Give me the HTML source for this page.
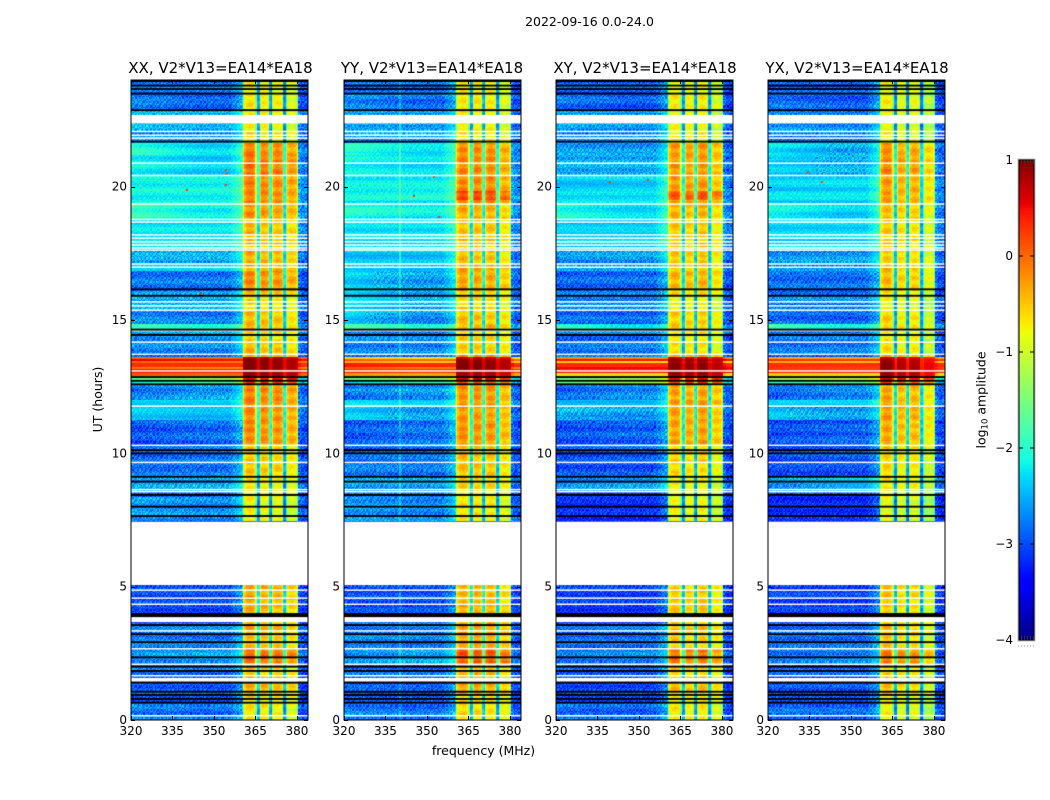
<!DOCTYPE html>
<html lang="en">
<head>
<meta charset="utf-8">
<title>2022-09-16 0.0-24.0</title>
<style>
  html, body { margin: 0; padding: 0; background: #fff; }
  #figure { position: relative; width: 1050px; height: 800px; overflow: hidden; background: #fff; }
  canvas { position: absolute; display: block; }
  svg { position: absolute; left: 0; top: 0; }
  text { font-family: "DejaVu Sans", "Liberation Sans", sans-serif; fill: #000; }
</style>
</head>
<body>
<div id="figure">
  <canvas id="hm0" width="177" height="640" style="left:131px;top:80px"></canvas>
  <canvas id="hm1" width="177" height="640" style="left:344px;top:80px"></canvas>
  <canvas id="hm2" width="177" height="640" style="left:556px;top:80px"></canvas>
  <canvas id="hm3" width="177" height="640" style="left:768px;top:80px"></canvas>
  <canvas id="cbar" width="15" height="480" style="left:1019px;top:160px"></canvas>
  <svg id="overlay" width="1050" height="800" viewBox="0 0 1050 800">
    <text x="589.5" y="26" font-size="12.5" text-anchor="middle">2022-09-16 0.0-24.0</text>
    <text x="220.5" y="73" font-size="15" text-anchor="middle">XX, V2*V13=EA14*EA18</text>
    <text x="432" y="73" font-size="15" text-anchor="middle">YY, V2*V13=EA14*EA18</text>
    <text x="645" y="73" font-size="15" text-anchor="middle">XY, V2*V13=EA14*EA18</text>
    <text x="857" y="73" font-size="15" text-anchor="middle">YX, V2*V13=EA14*EA18</text>
    <text x="483.5" y="755" font-size="12.5" text-anchor="middle">frequency (MHz)</text>
    <text transform="translate(102,399.5) rotate(-90)" font-size="12.5" text-anchor="middle">UT (hours)</text>
    <text transform="translate(985.5,400) rotate(-90)" font-size="12.5" text-anchor="middle">log<tspan font-size="8.5" dy="2">10</tspan><tspan dy="-2"> amplitude</tspan></text>
  </svg>
</div>
<script>
// ---- axis domain and tick data ----
const freqDomain = [320, 384];
const timeDomain = [0, 24];
const colorDomain = [-4, 1];
const freqTicks = [320, 335, 350, 365, 380];
const timeTicks = [0, 5, 10, 15, 20];
const colorTicks = [1, 0, -1, -2, -3, -4];

// ---- time rows (UT hours), bottom to top ----
const timeEdges = [0, .64, .94, 1.57, 2.1, 2.7, 3.22, 3.67, 4.35, 5.06, 7.46, 8.36, 8.62, 9.15, 9.67, 10.31, 11.25, 11.77, 12, 12.6, 12.75, 12.9, 13.01, 13.16, 13.24, 13.39, 13.46, 13.54, 13.61, 13.72, 14.17, 14.62, 14.85, 15.3, 15.86, 16.12, 16.87, 17.1, 17.62, 18.75, 19.35, 19.5, 19.85, 20.43, 21.18, 21.67, 22.09, 22.91, 23.47, 24];

// ---- log10 amplitude per time row: 320-335 MHz, 345-360 MHz, and the 361-380 MHz band ----
const xxLow = [-2.75,-3,-2.9,-2.8,-2.7,-2.7,-2.8,-3,-3,-4,-2.6,-2.9,-2.55,-2.8,-2.9,-3,-2.35,-2.3,-2.8,-2.2,-1.6,.1,.45,-.05,.35,.05,.55,0,-2.9,-2.7,-2.7,-1.75,-2.7,-2.5,-2.6,-2.8,-2.4,-2.5,-2.25,-1.85,-2.15,-2.15,-2.15,-2.15,-1.95,-2.6,-2.5,-2.7,-2.8];
const xxMid = [-2.85,-3,-2.95,-2.85,-2.6,-2.8,-2.7,-3.05,-3,-4,-2.7,-2.9,-2.5,-2.8,-2.8,-2.85,-2.45,-2.3,-2.6,-1.8,-1.2,0,.4,-.15,.35,-.1,.45,0,-2.9,-2.7,-2.6,-1.95,-2.8,-2.5,-2.6,-2.8,-2.4,-2.5,-2.25,-2.15,-2.15,-2.15,-2.15,-2.35,-2.3,-2.6,-2.6,-2.9,-2.8];
const xxBand = [-.75,-.7,-.45,-.55,-.05,-.55,-.4,-.45,-.4,-4,-.85,-.8,-.75,-.55,-.6,-.25,-.25,-.2,-.2,.2,.5,.9,.9,.95,.95,.95,.95,.85,-.3,-.5,-.6,-.45,-.5,-.7,-.5,-.25,-.4,-.45,-.5,-.3,-.25,-.2,-.2,-.1,-.2,-.7,-.8,-.75,-.8];

const yyLow = [-2.75,-3,-2.9,-2.8,-2.7,-2.7,-2.8,-3,-3,-4,-2.6,-2.85,-2.55,-2.75,-2.85,-2.95,-2.3,-2.3,-2.8,-2.3,-1.6,-.2,.4,.1,.4,-.3,.1,-.5,-2.8,-2.75,-2.65,-1.8,-2.35,-2.25,-2.25,-2.35,-2.3,-2.4,-2.25,-2,-2.2,-2.15,-2.15,-2.15,-1.95,-2.6,-2.5,-2.65,-2.8];
const yyMid = [-2.85,-3,-2.95,-2.85,-2.55,-2.8,-2.7,-3,-3,-4,-2.7,-2.85,-2.55,-2.8,-2.8,-2.8,-2.55,-2.4,-2.65,-1.9,-1.4,-.3,.35,-.1,.3,-.5,0,-.6,-2.8,-2.7,-2.7,-2.15,-2.7,-2.5,-2.55,-2.6,-2.4,-2.4,-2.25,-2.15,-2.25,-2.1,-2.15,-2.3,-2.25,-2.55,-2.55,-2.85,-2.8];
const yyBand = [-.7,-.65,-.4,-.5,0,-.4,-.35,-.45,-.5,-4,-.75,-.8,-.65,-.55,-.55,-.3,-.35,-.3,-.3,.1,.5,.8,.85,.95,.95,.9,.9,.7,-.3,-.6,-.65,-.45,-.55,-.7,-.55,-.4,-.4,-.55,-.55,-.45,-.2,.12,-.25,-.25,-.25,-.75,-.8,-.75,-.8];

const xyLow = [-2.85,-3.05,-3,-2.9,-2.8,-2.85,-2.9,-3.1,-3.05,-4,-3.2,-3.1,-2.7,-3,-3,-3,-2.45,-2.4,-2.9,-1.7,-1.55,-.6,.4,.5,.35,-.5,.45,-.2,-2.8,-2.8,-2.85,-1.85,-2.85,-2.7,-2.8,-2.9,-2.6,-2.65,-2.35,-2.05,-2.3,-2.25,-2.4,-2.5,-2.55,-2.75,-2.6,-2.8,-2.9];
const xyMid = [-2.9,-3.05,-3,-2.9,-2.7,-2.85,-2.8,-3.1,-3.1,-4,-3.2,-3.1,-2.6,-3,-2.9,-2.9,-2.6,-2.4,-2.7,-1.4,-1.2,-.6,.4,.5,.35,-.6,.45,-.2,-2.8,-2.75,-2.8,-2.2,-2.9,-2.7,-2.8,-2.85,-2.6,-2.6,-2.35,-2.3,-2.3,-2.25,-2.35,-2.5,-2.6,-2.7,-2.7,-2.95,-2.9];
const xyBand = [-.75,-.75,-.5,-.6,-.1,-.6,-.5,-.55,-.55,-4,-.85,-.85,-.8,-.65,-.6,-.35,-.35,-.3,-.35,.2,.55,.9,.95,.95,.95,.85,.95,.75,-.3,-.7,-.7,-.55,-.6,-.8,-.65,-.45,-.5,-.55,-.55,-.45,-.2,.05,-.3,-.3,-.3,-.75,-.85,-.75,-.85];

const yxLow = [-2.85,-3.05,-3,-2.9,-2.8,-2.85,-2.9,-3.1,-3.05,-4,-3.2,-3.1,-2.65,-3,-3,-3,-2.4,-2.4,-2.9,-1.8,-1.4,-.5,.35,.3,.3,-.4,.3,-.3,-2.8,-2.8,-2.85,-1.85,-2.85,-2.7,-2.8,-2.85,-2.55,-2.65,-2.3,-2.1,-2.3,-2.25,-2.35,-2.35,-2.2,-2.75,-2.6,-2.8,-2.9];
const yxMid = [-2.9,-3.05,-3,-2.9,-2.7,-2.85,-2.8,-3.1,-3.1,-4,-3.2,-3.1,-2.45,-3,-2.9,-2.9,-2.6,-2.4,-2.7,-1.5,-1.2,-.6,.35,.25,.3,-.5,.25,-.3,-2.8,-2.75,-2.8,-2.2,-2.9,-2.7,-2.8,-2.85,-2.6,-2.6,-2.3,-2.35,-2.3,-2.25,-2.3,-2.5,-2.5,-2.7,-2.7,-2.95,-2.9];
const yxBand = [-.85,-.8,-.55,-.65,-.15,-.6,-.5,-.6,-.55,-4,-.9,-.85,-.75,-.7,-.65,-.4,-.35,-.35,-.4,.2,.5,.85,.9,.9,.9,.85,.85,.7,-.35,-.7,-.75,-.6,-.65,-.85,-.7,-.5,-.55,-.6,-.6,-.5,-.4,-.35,-.35,-.25,-.3,-.8,-.85,-.8,-.85];

// ---- spectral shape: offsets per channel ----
const offShape = [0,0,0,0,0,0,0,0,0,0,0,0,0,0,0,0,0,0,0,0,0,0,0,0,0,0,0,0,0,0,0,0,0,0,0,0,.1,.15,.25,.35,.5];
const bandShape = [-.5,-.15,0,.05,.08,.08,.05,0,-.1,-.7,-1.9,-1.8,-.3,0,.05,.05,0,-.05,-.2,-1.7,-1.9,-.4,-.05,.05,.08,.08,.05,0,-.2,-1.8,-1.9,-.9,-.1,0,.03,.03,0,-.05,-.15,-.5];
const rightShape = [.15,0,0,-.05];
const xxBlockGain = [.05, 0, -.05, -.15];
const yyBlockGain = [.05, .05, 0, -.15];
const xyBlockGain = [0, -.05, 0, -.2];
const yxBlockGain = [.05, -.1, -.1, -.35];

// ---- flagged samples in UT hours ----
const whiteGaps = [[5.06,7.44],[22.42,22.69],[3.67,3.86],[1.44,1.575],[13.69,13.74]];
const whiteLines = [22.4,22.07,21.93,21.82,20.88,20.42,19.35,18.77,18.67,18.19,18.07,17.93,17.81,17.7,17.62,17.1,16.98,15.68,15.53,15.37,14.6,14.17,13.09,11.77,10.3,9.66,8.64,8.56,4.87,4.57,4.34,3.34,2.67,2.09,1.66,.16];
const blackGaps = [[3.86,4.01]];
const blackLines = [23.96,23.79,23.66,23.49,22.87,21.69,16.15,15.91,14.64,14.44,12.86,12.72,12.59,10.12,10,9.12,8.94,8.44,8,7.65,3.56,3.22,2.92,2.35,2,1.84,1.4,1.06,.94,.79,.65];

// ---- isolated narrowband spikes [MHz, hour] ----
const xxSpikes = [[354,20.67],[354,20.52],[354,20.1],[345,16],[340,19.9]];
const yySpikes = [[345,19.7],[352,20.4],[354,18.9]];
const xySpikes = [[339,20.2],[353,20.3]];
const yxSpikes = [[339,20.2],[334,20.6]];
const yySpurChannels = [340];
const noSpurChannels = [];

// ---- hand-typed sample grain in tenths of a dex ----
const grainTile = [
  [ 2,-3, 1, 3,-2,-1, 4,-3, 0, 2,-4, 1, 3,-1,-3, 2, 0],
  [-1, 3,-2, 0, 4,-3, 1, 2,-4, 3, 0,-2, 1, 4,-2,-3, 2],
  [ 3,-2, 4,-1,-3, 2, 0,-4, 3, 1,-2, 4,-3, 0, 2,-1,-4],
  [-4, 1, 0, 3,-2, 4,-3, 1,-1, 3,-3, 0, 2,-4, 3, 1,-2],
  [ 1, 4,-3,-2, 2,-1, 3,-2, 4,-4, 1, 2,-1, 3,-3, 0, 3],
  [-2,-1, 3, 1,-4, 2,-2, 4, 0,-3, 3,-1,-4, 2, 1,-3, 4],
  [ 4,-3, 0,-2, 3, 1,-4, 2,-1, 1,-2, 3, 0,-3, 4, 2,-1],
  [ 0, 2,-4, 3,-1,-3, 2,-1, 3,-2, 4,-4, 2, 1,-2, 3,-3],
  [-3, 1, 2,-4, 0, 3,-1, 4,-3, 2,-1, 1,-3, 4, 0,-2, 1],
  [ 2,-4, 3, 1,-3, 0, 4,-2, 1,-4, 3, 2,-1,-2, 3,-4, 0],
  [-1, 3,-1, 4,-2,-4, 1, 3,-3, 0, 2,-3, 4, 1,-4, 2,-2]
];
// hand-typed horizontal streaks (tenths of a dex) across the band and off-band
const bandRipple = [2,2,1,-1,-3,-3,-1,1,2,3,2,0,-2,-3,-2,0,2,3,3,1,-1,-2,-3,-1,1,2,1,-1,-3,-2,0,2,3,2,0,-2,-1];
const offStreak = [1,1,0,-1,-2,-2,-1,0,1,2,1,1,0,-1,-1,-2,-1,0,1,1,2,1,0,-1,-2,-1,0,1,0];

const panels = [
  {low: xxLow, mid: xxMid, band: xxBand, gain: xxBlockGain, spikes: xxSpikes, spurs: noSpurChannels, left: 131, shift: 0},
  {low: yyLow, mid: yyMid, band: yyBand, gain: yyBlockGain, spikes: yySpikes, spurs: yySpurChannels, left: 344, shift: 5},
  {low: xyLow, mid: xyMid, band: xyBand, gain: xyBlockGain, spikes: xySpikes, spurs: noSpurChannels, left: 556, shift: 9},
  {low: yxLow, mid: yxMid, band: yxBand, gain: yxBlockGain, spikes: yxSpikes, spurs: noSpurChannels, left: 768, shift: 13}
];

// ---- scales ----
const plotWidth = 177, plotHeight = 640, plotTop = 80, plotBottom = 720;
function xScale(f) { return (f - freqDomain[0]) / (freqDomain[1] - freqDomain[0]) * plotWidth; }
function yScale(t) { return plotHeight - (t - timeDomain[0]) / (timeDomain[1] - timeDomain[0]) * plotHeight; }
function lerpStops(s, v) {
  if (v <= s[0][0]) return s[0][1];
  for (let i = 1; i < s.length; i++) {
    if (v <= s[i][0]) return s[i-1][1] + (s[i][1] - s[i-1][1]) * (v - s[i-1][0]) / (s[i][0] - s[i-1][0]);
  }
  return s[s.length-1][1];
}
const jetR = [[0,0],[.35,0],[.66,1],[.89,1],[1,.5]];
const jetG = [[0,0],[.125,0],[.375,1],[.64,1],[.91,0],[1,0]];
const jetB = [[0,.5],[.11,1],[.34,1],[.65,0],[1,0]];
const colorCache = {};
function colorOf(v) {
  const key = Math.round(v * 100);
  if (colorCache[key]) return colorCache[key];
  const n = Math.max(0, Math.min(1, (v - colorDomain[0]) / (colorDomain[1] - colorDomain[0])));
  const css = 'rgb(' + Math.round(255*lerpStops(jetR,n)) + ',' + Math.round(255*lerpStops(jetG,n)) + ',' + Math.round(255*lerpStops(jetB,n)) + ')';
  colorCache[key] = css;
  return css;
}

// ---- heatmap drawing ----
const sampleStep = 0.05;
const channelStep = 0.5;
function blockIndex(f) { return f < 365.7 ? 0 : f < 370.6 ? 1 : f < 375.6 ? 2 : 3; }
function buildChannels() {
  const out = [];
  for (let f = 320; f < 360.5; f += channelStep) {
    out.push({f0: f, f1: f + channelStep, kind: 'off', shape: offShape[Math.floor(f - 320)]});
  }
  bandShape.forEach(function (o, i) {
    out.push({f0: 360.5 + i * channelStep, f1: 361 + i * channelStep, kind: 'band', shape: o});
  });
  for (let f = 380.5; f < 384; f += channelStep) {
    out.push({f0: f, f1: f + channelStep, kind: 'right', shape: rightShape[Math.floor(f - 380.5)]});
  }
  return out;
}
const channels = buildChannels();

function cellValue(p, r, ch) {
  const low = p.low[r], mid = p.mid[r], band = p.band[r];
  if (ch.kind === 'band') return band + ch.shape * (band > .6 ? .2 : (band > .3 ? .6 : 1)) + p.gain[blockIndex(ch.f0)];
  if (ch.kind === 'right') return (mid < -1 ? mid * .5 - 1.6 : mid) + ch.shape;
  const t = Math.min(1, (ch.f0 - 320) / 25);
  const base = low + (mid - low) * t;
  if (base > -1) return base;
  const spur = p.spurs.indexOf(ch.f0) >= 0 ? .35 : 0;
  return base + ch.shape + spur;
}

function drawPanel(canvasEl, p) {
  const ctx = canvasEl.getContext('2d');
  ctx.fillStyle = '#fff';
  ctx.fillRect(0, 0, plotWidth, plotHeight);
  const totalSamples = Math.round((timeDomain[1] - timeDomain[0]) / sampleStep);
  let r = 0;
  for (let k = 0; k < totalSamples; k++) {
    const t = k * sampleStep;
    while (r < timeEdges.length - 2 && t + sampleStep / 2 >= timeEdges[r + 1]) r++;
    const y0 = Math.round(yScale(t + sampleStep)), y1 = Math.round(yScale(t));
    if (y1 <= y0) continue;
    const gr = grainTile[k % grainTile.length];
    const colShift = Math.floor(k / grainTile.length) * 5 + p.shift;
    const streak = offStreak[(k + p.shift) % offStreak.length] * .1;
    channels.forEach(function (ch, c) {
      const base = cellValue(p, r, ch);
      const g = gr[(c + colShift) % gr.length] * .1;
      let v;
      if (ch.kind === 'band') {
        const rip = bandRipple[(k + blockIndex(ch.f0) * 7 + p.shift) % bandRipple.length] * .1;
        v = base + (p.band[r] > .6 ? .02 * g : rip * .45 + g * .25);
      } else {
        const amp = base < -2.45 ? 1 : (base < -1 ? .45 : .1);
        v = base + g * amp + (base < -1 ? streak * .7 : streak * .2);
      }
      ctx.fillStyle = colorOf(v);
      const x0 = Math.round(xScale(ch.f0)), x1 = Math.round(xScale(ch.f1));
      ctx.fillRect(x0, y0, Math.max(1, x1 - x0), y1 - y0);
    });
  }
  p.spikes.forEach(function (s) {
    ctx.fillStyle = colorOf(.25);
    ctx.fillRect(Math.round(xScale(s[0])), Math.round(yScale(s[1])), 2, 2);
  });
  function band(a, b, color) {
    ctx.fillStyle = color;
    ctx.fillRect(0, yScale(b), plotWidth, yScale(a) - yScale(b));
  }
  whiteGaps.forEach(function (g) { band(g[0], g[1], '#fff'); });
  blackGaps.forEach(function (g) { band(g[0], g[1], '#000'); });
  whiteLines.forEach(function (h) { band(h - .028, h + .028, '#fff'); });
  blackLines.forEach(function (h) { band(h - .035, h + .035, '#000'); });
}
panels.forEach(function (p, i) { drawPanel(document.getElementById('hm' + i), p); });

// ---- colorbar ----
(function () {
  const c = document.getElementById('cbar').getContext('2d');
  for (let y = 0; y < 480; y++) {
    c.fillStyle = colorOf(colorDomain[1] - (y + .5) / 480 * (colorDomain[1] - colorDomain[0]));
    c.fillRect(0, y, 15, 1);
  }
})();

// ---- svg overlay: frames, ticks, labels ----
const svg = document.getElementById('overlay');
const NS = 'http://www.w3.org/2000/svg';
function addLine(x1, y1, x2, y2, color) {
  const l = document.createElementNS(NS, 'line');
  l.setAttribute('x1', x1);
  l.setAttribute('y1', y1);
  l.setAttribute('x2', x2);
  l.setAttribute('y2', y2);
  l.setAttribute('stroke', color || '#000');
  l.setAttribute('stroke-width', '1');
  
  
  svg.appendChild(l);
}
function addLabel(x, y, str, anchor) {
  const t = document.createElementNS(NS, 'text');
  t.setAttribute('x', x);
  t.setAttribute('y', y);
  t.setAttribute('font-size', '12');
  t.setAttribute('text-anchor', anchor);
  
  
  t.textContent = str;
  svg.appendChild(t);
}
function addFrame(x, y, w, h) {
  const r = document.createElementNS(NS, 'rect');
  r.setAttribute('x', x);
  r.setAttribute('y', y);
  r.setAttribute('width', w);
  r.setAttribute('height', h);
  r.setAttribute('fill', 'none');
  r.setAttribute('stroke', '#000');
  r.setAttribute('stroke-width', '1');
  
  
  svg.appendChild(r);
}
panels.forEach(function (p) {
  const L = p.left;
  addFrame(L, plotTop, plotWidth, plotHeight);
  freqTicks.forEach(function (f) {
    const x = Math.round(L + xScale(f)) + .5;
    addLine(x, plotBottom, x, plotBottom - 4);
    addLine(x, plotTop, x, plotTop + 4);
    addLabel(L + xScale(f), plotBottom + 15, String(f), 'middle');
  });
  timeTicks.forEach(function (t) {
    const y = Math.round(plotTop + yScale(t)) + .5;
    addLine(L, y, L + 4, y);
    addLine(L + plotWidth, y, L + plotWidth - 4, y);
    addLabel(L - 4, plotTop + yScale(t) + 4, String(t), 'end');
  });
});
function cbarY(v) { return 160 + (colorDomain[1] - v) / (colorDomain[1] - colorDomain[0]) * 480; }
addFrame(1019, 160, 15, 480);
const cbarOutline = document.createElementNS(NS, 'rect');
cbarOutline.setAttribute('x', '1018');
cbarOutline.setAttribute('y', '159');
cbarOutline.setAttribute('width', '17');
cbarOutline.setAttribute('height', '482');
cbarOutline.setAttribute('fill', 'none');
cbarOutline.setAttribute('stroke', '#bbb');


svg.appendChild(cbarOutline);
colorTicks.forEach(function (v) {
  const y = cbarY(v);
  addLine(1019, y, 1023, y);
  addLine(1034, y, 1030, y);
  addLabel(1013, y + 4, String(v).replace('-', '\u2212'), 'end');
});
[1021, 1024, 1027, 1030, 1033].forEach(function (x) {
  addLine(x + .5, 160, x + .5, 164, '#333');
  addLine(x + .5, 640, x + .5, 636, '#333');
});
[1018, 1021, 1024, 1027, 1030, 1033].forEach(function (x) {
  addLine(x, 646, x + 1, 646, '#999');
});
</script>
</body>
</html>
